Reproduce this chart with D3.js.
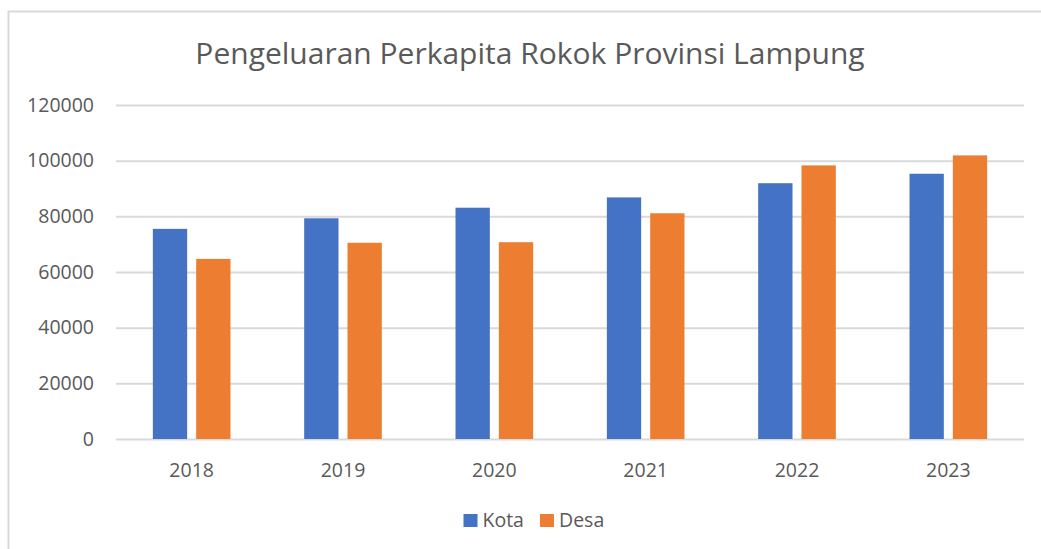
<!DOCTYPE html>
<html>
<head>
<meta charset="utf-8">
<script src="https://cdn.jsdelivr.net/npm/d3@7"></script>
<style>
  html, body { margin: 0; padding: 0; background: #ffffff; }
  svg { display: block; }
  text { font-family: "Open Sans", "Noto Sans", sans-serif; fill: #595959; }
</style>
</head>
<body>
<svg id="chart" width="1041" height="549"></svg>
<script>
const title = "Pengeluaran Perkapita Rokok Provinsi Lampung";
const years = ["2018", "2019", "2020", "2021", "2022", "2023"];
const seriesNames = ["Kota", "Desa"];
const kota = [75500, 79300, 83100, 86800, 91900, 95300];
const desa = [64700, 70500, 70700, 81100, 98300, 101900];
const yTicks = [0, 20000, 40000, 60000, 80000, 100000, 120000];
const colors = ["#4472C4", "#ED7D31"];

const svg = d3.select("#chart");
const W = 1041, H = 549;

// chart frame
svg.append("rect")
  .attr("x", 8.5).attr("y", 11.5)
  .attr("width", 1100).attr("height", 600)
  .attr("fill", "#ffffff")
  .attr("stroke", "#d9d9d9").attr("stroke-width", 2);

const plot = { left: 116, right: 1024, top: 105, bottom: 439 };

const x = d3.scaleBand().domain(years)
  .range([plot.left, plot.right])
  .paddingInner(0.487).paddingOuter(0.2435);
const xs = d3.scaleBand().domain(seriesNames)
  .range([0, x.bandwidth()])
  .paddingInner(0.208).paddingOuter(0);
const y = d3.scaleLinear().domain([0, 120000]).range([plot.bottom, plot.top]);

// gridlines + y labels via axis
const yAxis = d3.axisLeft(y).tickValues(yTicks)
  .tickSize(-(plot.right - plot.left)).tickPadding(22).tickFormat(d3.format("d"));
const gy = svg.append("g").attr("transform", `translate(${plot.left},0)`).call(yAxis);
gy.select(".domain").remove();
gy.selectAll(".tick line").attr("stroke", "#d9d9d9").attr("stroke-width", 2);
gy.selectAll(".tick text")
  .attr("font-size", "19.5px")
  .attr("fill", "#595959")
  .style("font-family", '"Open Sans", sans-serif');

// bars
const data = years.map((yr, i) => ({ year: yr, values: [
  { name: "Kota", value: kota[i] },
  { name: "Desa", value: desa[i] }
]}));

const groups = svg.append("g").selectAll("g").data(data).join("g")
  .attr("transform", d => `translate(${x(d.year)},0)`);
groups.selectAll("rect").data(d => d.values).join("rect")
  .attr("x", d => xs(d.name))
  .attr("width", xs.bandwidth())
  .attr("y", d => y(d.value))
  .attr("height", d => y(0) - y(d.value))
  .attr("fill", (d, i) => colors[i]);

// x axis labels
const xAxis = d3.axisBottom(x).tickSize(0).tickPadding(0);
const gx = svg.append("g").attr("transform", `translate(0,${plot.bottom})`).call(xAxis);
gx.select(".domain").remove();
gx.selectAll(".tick text")
  .attr("dy", null)
  .attr("y", 38)
  .attr("font-size", "19.5px")
  .attr("fill", "#595959")
  .style("font-family", '"Open Sans", sans-serif');

// title
svg.append("text")
  .attr("x", 530).attr("y", 64)
  .attr("text-anchor", "middle")
  .attr("font-size", "30px")
  .text(title);

// legend
const legendItems = [
  { name: "Kota", x: 463.5, color: colors[0] },
  { name: "Desa", x: 540, color: colors[1] }
];
const lg = svg.append("g");
legendItems.forEach(it => {
  lg.append("rect").attr("x", it.x).attr("y", 514)
    .attr("width", 14).attr("height", 13).attr("fill", it.color);
  lg.append("text").attr("x", it.x + 19).attr("y", 527)
    .attr("font-size", "19.5px").text(it.name);
});
</script>
</body>
</html>
